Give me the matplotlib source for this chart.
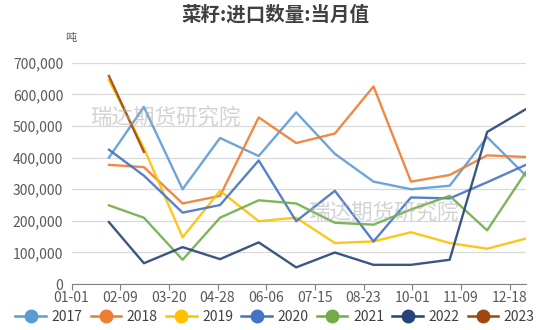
import numpy as np
import pandas as pd
import matplotlib
matplotlib.use('Agg')
import matplotlib.pyplot as plt
import matplotlib.dates as mdates

plt.rcParams['font.family'] = ['Noto Sans CJK SC', 'DejaVu Sans']

# month-end points, plotted on one common (non-leap) year
months = pd.date_range('2023-01-31', periods=12, freq='ME')

y2017 = [400000, 560000, 300000, 462000, 405000, 543000, 412000, 324000, 300000, 311000, 465000, 343000]
y2018 = [377000, 370000, 255000, 279000, 527000, 446000, 476000, 625000, 324000, 345000, 407000, 402000]
y2019 = [645000, 430000, 148000, 295000, 199000, 210000, 130000, 135000, 164000, 130000, 112000, 144000]
y2020 = [425000, 343000, 226000, 250000, 391000, 199000, 295000, 135000, 274000, 271000, 322000, 377000]
y2021 = [249000, 210000, 77000, 210000, 265000, 255000, 194000, 188000, 236000, 279000, 170000, 354000]
y2022 = [196000, 66000, 117000, 79000, 132000, 53000, 100000, 61000, 61000, 77000, 481000, 553000]
y2023 = [658000, 418000]

series = [('2017', y2017, '#5B9BD5'), ('2018', y2018, '#ED7D31'), ('2019', y2019, '#FFC000'),
          ('2020', y2020, '#4472C4'), ('2021', y2021, '#70AD47'), ('2022', y2022, '#264478'),
          ('2023', y2023, '#9E480E')]

tick_dates = pd.date_range('2023-01-01', periods=10, freq='39D')

fig = plt.figure(figsize=(5.5, 3.3), dpi=100)
ax = fig.add_axes([0.130, 0.139, 0.826, 0.671])

for name, vals, col in series:
    ax.plot(months[:len(vals)], vals, color=col, lw=1.7, label=name, alpha=0.9)

ax.set_xlim(pd.Timestamp('2023-01-01'), pd.Timestamp('2023-12-31'))
ax.set_ylim(0, 700000)
ax.set_yticks(np.arange(0, 700001, 100000))
ax.yaxis.set_major_formatter(matplotlib.ticker.FuncFormatter(lambda v, p: f'{int(v):,}'))
ax.set_xticks(tick_dates)
ax.xaxis.set_major_formatter(mdates.DateFormatter('%m-%d'))

ax.grid(axis='y', color='#D9D9D9', lw=0.9)
ax.set_axisbelow(True)
for s in ['top', 'right', 'left']:
    ax.spines[s].set_visible(False)
ax.spines['bottom'].set_color('#808080')
ax.tick_params(axis='y', length=0, labelsize=10, labelcolor='#595959', pad=6)
ax.tick_params(axis='x', length=4, color='#808080', labelsize=10, labelcolor='#595959', pad=1)

fig.text(0.5, 0.955, '菜籽:进口数量:当月值', ha='center', va='center', fontsize=14,
         fontweight='bold', color='#404040')
fig.text(0.128, 0.885, '吨', ha='center', va='center', fontsize=8, color='#595959')

# watermark
fig.text(0.30, 0.642, '瑞达期货研究院', ha='center', va='center', fontsize=15.5, color='#B0B0B0', alpha=0.55)
fig.text(0.697, 0.355, '瑞达期货研究院', ha='center', va='center', fontsize=15.5, color='#B0B0B0', alpha=0.55)

handles = [plt.Line2D([], [], color=c, lw=1.8, marker='o', markersize=9) for _, _, c in series]
fig.legend(handles, [n for n, _, _ in series], loc='lower center', bbox_to_anchor=(0.5, -0.02),
           ncol=7, frameon=False, fontsize=10, handlelength=2.2, handletextpad=0.4,
           columnspacing=0.6, labelcolor='#404040')

fig.savefig('out.png', dpi=100)
